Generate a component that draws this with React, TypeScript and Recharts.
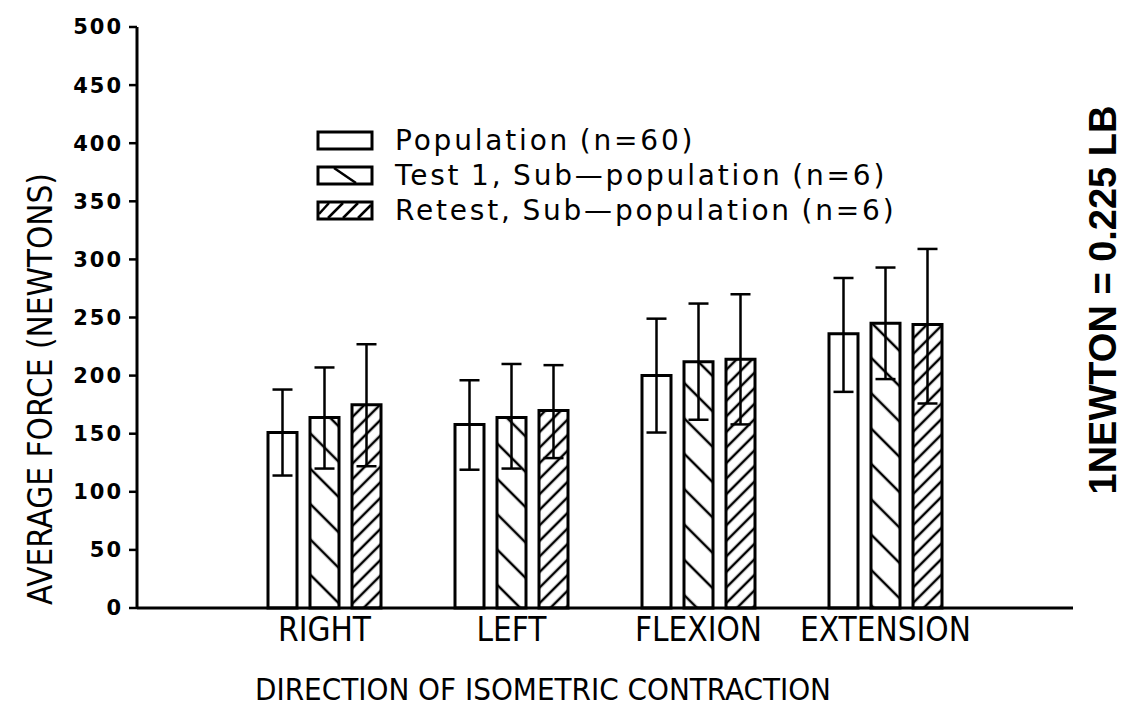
import React from 'react';
import { BarChart, Bar, XAxis, YAxis, ErrorBar, Legend } from 'recharts';

const categories = ['RIGHT', 'LEFT', 'FLEXION', 'EXTENSION'];
const populationMean = [151, 158, 200, 236];
const populationErrUp = [37, 38, 49, 48];
const populationErrDown = [37, 39, 49, 50];
const test1Mean = [164, 164, 212, 245];
const test1ErrUp = [43, 46, 50, 48];
const test1ErrDown = [44, 44, 50, 48];
const retestMean = [175, 170, 214, 244];
const retestErrUp = [52, 39, 56, 65];
const retestErrDown = [53, 41, 56, 68];
const yTicks = [0, 50, 100, 150, 200, 250, 300, 350, 400, 450, 500];
const seriesNames = ['Population (n=60)', 'Test 1, Sub\u2014population (n=6)', 'Retest, Sub\u2014population (n=6)'];
const xTitle = 'DIRECTION OF ISOMETRIC CONTRACTION';
const yTitle = 'AVERAGE FORCE (NEWTONS)';
const noteText = '1NEWTON = 0.225 LB';

const data = categories.map((c, i) => ({
  category: c,
  pop: populationMean[i],
  popErr: [populationErrDown[i], populationErrUp[i]],
  test: test1Mean[i],
  testErr: [test1ErrDown[i], test1ErrUp[i]],
  retest: retestMean[i],
  retestErr: [retestErrDown[i], retestErrUp[i]],
}));

const narrow = "'Liberation Sans Narrow', 'DejaVu Sans Condensed', 'Liberation Sans', sans-serif";
const wide = "'DejaVu Sans', 'Verdana', sans-serif";

const LegendContent = () => (
  <div style={{ fontFamily: wide, fontSize: 28, letterSpacing: 2.8, wordSpacing: -2, color: '#000', lineHeight: '35px' }}>
    {seriesNames.map((name, i) => (
      <div key={name} style={{ display: 'flex', alignItems: 'center', whiteSpace: 'nowrap' }}>
        <svg width={60} height={22} style={{ marginRight: 19 }}>
          <rect x={2} y={2} width={54} height={17} fill="#fff" stroke="#000" strokeWidth={3} />
          {i === 1 && <line x1={18} y1={3} x2={40} y2={18} stroke="#000" strokeWidth={2.5} />}
          {i === 2 && (
            <g stroke="#000" strokeWidth={2.5}>
              <line x1={3} y1={14} x2={13} y2={3} />
              <line x1={12} y1={18} x2={27} y2={3} />
              <line x1={27} y1={18} x2={42} y2={3} />
              <line x1={42} y1={18} x2={55} y2={5} />
            </g>
          )}
        </svg>
        <span>{name}</span>
      </div>
    ))}
  </div>
);

export default function App() {
  return (
    <div style={{ position: 'absolute', left: 0, top: 0, width: 1125, height: 707, background: '#fff', overflow: 'hidden' }}>
      <BarChart
        width={1125}
        height={707}
        data={data}
        margin={{ top: 27, right: 52, bottom: 49, left: 77 }}
        barSize={29}
        barGap={13}
      >
        <defs>
          <pattern id="hatchBack" patternUnits="userSpaceOnUse" width={25} height={25} patternTransform="rotate(45)">
            <rect width={25} height={25} fill="#fff" />
            <line x1={0} y1={12} x2={25} y2={12} stroke="#000" strokeWidth={2.5} />
          </pattern>
          <pattern id="hatchFwd" patternUnits="userSpaceOnUse" width={11} height={11} patternTransform="rotate(-45)">
            <rect width={11} height={11} fill="#fff" />
            <line x1={0} y1={5} x2={11} y2={5} stroke="#000" strokeWidth={2.5} />
          </pattern>
        </defs>
        <XAxis
          dataKey="category"
          padding={{ left: 94, right: 94 }}
          height={50}
          axisLine={{ stroke: '#000', strokeWidth: 3 }}
          tickLine={false}
          tick={{ fill: '#000', fontSize: 33, fontFamily: narrow }}
          tickMargin={4}
          interval={0}
        />
        <XAxis
          xAxisId="top"
          dataKey="category"
          orientation="top"
          height={0}
          tick={false}
          tickLine={false}
          axisLine={{ stroke: '#000', strokeWidth: 2.5 }}
        />
        <YAxis
          domain={[0, 500]}
          ticks={yTicks}
          width={60}
          interval={0}
          axisLine={{ stroke: '#000', strokeWidth: 3 }}
          tickLine={{ stroke: '#000', strokeWidth: 2.5 }}
          tickSize={8}
          tickMargin={6}
          tick={{ fill: '#000', fontSize: 21, fontWeight: 'bold', fontFamily: wide, letterSpacing: 2 }}
        />
        <YAxis
          yAxisId="right"
          orientation="right"
          domain={[0, 500]}
          width={0}
          tick={false}
          tickLine={false}
          axisLine={{ stroke: '#000', strokeWidth: 2.5 }}
        />
        <Legend
          layout="vertical"
          align="center"
          verticalAlign="middle"
          content={<LegendContent />}
          wrapperStyle={{ left: 316, top: 123, width: 640, height: 110 }}
        />
        <Bar dataKey="pop" name={seriesNames[0]} fill="#fff" stroke="#000" strokeWidth={3} isAnimationActive={false}>
          <ErrorBar dataKey="popErr" width={10} stroke="#000" strokeWidth={2.5} />
        </Bar>
        <Bar dataKey="test" name={seriesNames[1]} fill="url(#hatchBack)" stroke="#000" strokeWidth={3} isAnimationActive={false}>
          <ErrorBar dataKey="testErr" width={10} stroke="#000" strokeWidth={2.5} />
        </Bar>
        <Bar dataKey="retest" name={seriesNames[2]} fill="url(#hatchFwd)" stroke="#000" strokeWidth={3} isAnimationActive={false}>
          <ErrorBar dataKey="retestErr" width={10} stroke="#000" strokeWidth={2.5} />
        </Bar>
      </BarChart>
      <div
        style={{
          position: 'absolute', left: 40, top: 389, transform: 'translate(-50%, -50%) rotate(-90deg)',
          whiteSpace: 'nowrap', fontFamily: narrow, fontSize: 33, lineHeight: 1, color: '#000',
        }}
      >
        {yTitle}
      </div>
      <div
        style={{
          position: 'absolute', left: 1103, top: 300, transform: 'translate(-50%, -50%) rotate(-90deg)',
          whiteSpace: 'nowrap', fontFamily: "'Liberation Sans', sans-serif", fontSize: 38, fontWeight: 'bold', lineHeight: 1, color: '#000',
        }}
      >
        {noteText}
      </div>
      <div
        style={{
          position: 'absolute', left: 543, top: 689, transform: 'translate(-50%, -50%)',
          whiteSpace: 'nowrap', fontFamily: narrow, fontSize: 31, lineHeight: 1, color: '#000',
        }}
      >
        {xTitle}
      </div>
    </div>
  );
}
